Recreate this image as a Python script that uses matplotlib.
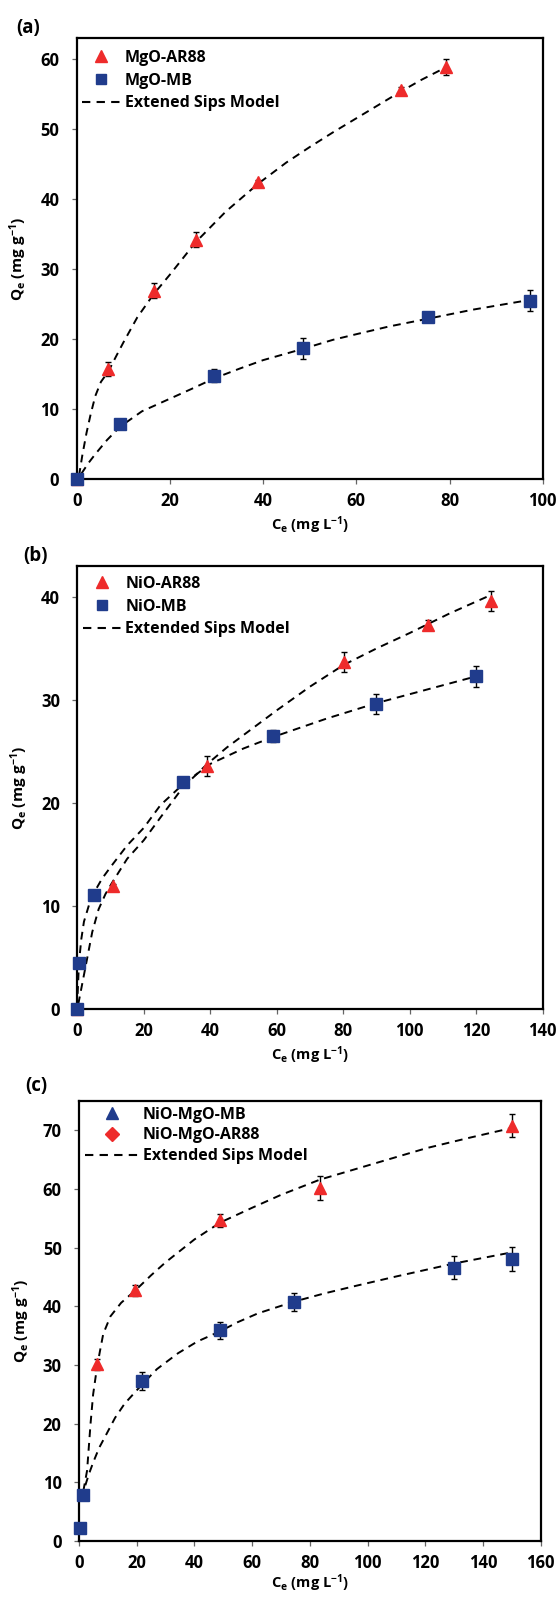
import numpy as np
import matplotlib
matplotlib.use("Agg")
import matplotlib.pyplot as plt
from matplotlib.lines import Line2D

plt.rcParams['font.family'] = ['Open Sans', 'DejaVu Sans']
plt.rcParams['font.weight'] = 'bold'
plt.rcParams['mathtext.fontset'] = 'custom'
plt.rcParams['mathtext.rm'] = 'Open Sans'
plt.rcParams['mathtext.bf'] = 'Open Sans:bold'
plt.rcParams['mathtext.it'] = 'Open Sans:italic'
plt.rcParams['mathtext.default'] = 'regular'

RED = '#ee2b2b'
BLUE = '#203c8c'

# ---- panel (a) data ----
a_ar_x = [0, 6.8, 16.5, 25.5, 39.0, 69.5, 79.3]
a_ar_y = [0, 15.8, 26.9, 34.2, 42.4, 55.6, 58.8]
a_ar_err = [0, 1.0, 1.1, 1.1, 0.3, 0.4, 1.1]
a_mb_x = [0, 9.3, 29.5, 48.5, 75.3, 97.3]
a_mb_y = [0, 7.9, 14.8, 18.7, 23.2, 25.5]
a_mb_err = [0, 0.2, 0.9, 1.5, 0.3, 1.5]
# model curves
a_ar_fx = [0.5, 1.2, 2.1, 3.0, 4.0, 5.2, 6.8, 8.5, 10.0, 13.0, 16.5, 20.0, 25.5, 32.0, 39.0, 45.0, 50.0, 55.0, 60.0, 65.0, 69.5, 74.0, 79.3]
a_ar_fy = [0.5, 3.4, 6.6, 9.3, 11.9, 13.9, 15.4, 17.6, 19.5, 23.1, 26.4, 29.2, 33.8, 38.2, 42.2, 45.2, 47.4, 49.5, 51.5, 53.5, 55.3, 57.0, 58.8]
a_mb_fx = [1.0, 2.5, 4.0, 6.5, 9.3, 14.0, 20.0, 25.0, 29.5, 35.0, 40.0, 48.5, 55.0, 60.0, 67.0, 75.3, 85.0, 97.3]
a_mb_fy = [0.8, 2.3, 3.6, 5.6, 7.5, 9.7, 11.5, 13.0, 14.4, 15.8, 17.0, 18.6, 19.9, 20.7, 21.8, 22.9, 24.2, 25.6]

# ---- panel (b) data ----
b_ar_x = [0, 10.7, 39.1, 80.1, 105.5, 124.5]
b_ar_y = [0, 12.0, 23.6, 33.7, 37.3, 39.6]
b_ar_err = [0, 0.2, 1.0, 1.0, 0.5, 1.0]
b_mb_x = [0, 0.5, 5.0, 31.7, 58.8, 90.0, 120.0]
b_mb_y = [0, 4.5, 11.1, 22.0, 26.5, 29.6, 32.3]
b_mb_err = [0, 0.2, 0.3, 0.3, 0.6, 1.0, 1.0]
b_ar_fx = [0.3, 1.5, 2.7, 4.5, 6.4, 8.5, 10.7, 15.0, 20.0, 25.0, 31.7, 39.1, 45.0, 50.0, 60.0, 70.0, 80.1, 90.0, 100.0, 112.0, 124.5]
b_ar_fy = [0.5, 2.5, 4.5, 7.5, 9.7, 11.2, 12.4, 14.6, 16.4, 18.6, 21.5, 23.8, 25.4, 26.6, 29.0, 31.3, 33.4, 35.0, 36.5, 38.4, 40.2]
b_mb_fx = [0.1, 0.5, 1.2, 2.0, 3.5, 5.0, 7.5, 10.0, 15.0, 20.0, 25.0, 31.7, 40.0, 50.0, 58.8, 75.0, 90.0, 105.0, 120.0]
b_mb_fy = [1.5, 4.5, 6.8, 8.5, 10.1, 11.3, 12.7, 13.8, 15.9, 17.6, 19.8, 21.8, 23.8, 25.3, 26.4, 28.2, 29.7, 31.0, 32.3]

# ---- panel (c) data ----
c_ar_x = [6.2, 19.5, 49.0, 83.5, 150.0]
c_ar_y = [30.1, 42.7, 54.7, 60.2, 70.8]
c_ar_err = [1.0, 1.0, 1.1, 2.0, 2.0]
c_mb_x = [0.3, 1.5, 21.7, 48.7, 74.5, 130.0, 150.0]
c_mb_y = [2.3, 7.8, 27.3, 35.9, 40.7, 46.6, 48.1]
c_mb_err = [0, 0, 1.5, 1.5, 1.5, 2.0, 2.0]
c_ar_fx = [1.5, 2.8, 4.0, 4.9, 6.2, 7.2, 8.4, 10.9, 14.6, 19.5, 25.0, 30.0, 40.0, 49.0, 60.0, 70.0, 83.5, 100.0, 120.7, 135.0, 150.0]
c_ar_fy = [8.5, 12.0, 20.0, 25.0, 29.5, 32.2, 35.3, 38.3, 40.6, 42.7, 45.3, 47.5, 51.4, 54.3, 56.8, 59.0, 61.6, 64.0, 67.0, 68.7, 70.4]
c_mb_fx = [2.2, 3.5, 5.0, 7.0, 9.6, 12.5, 15.8, 21.7, 27.0, 34.3, 41.0, 48.7, 55.0, 62.0, 74.5, 85.0, 96.0, 110.0, 130.0, 150.0]
c_mb_fy = [9.5, 11.5, 13.5, 15.9, 18.3, 21.0, 23.4, 26.6, 29.3, 32.0, 34.0, 35.7, 37.3, 38.8, 40.8, 42.2, 43.5, 45.1, 47.3, 49.2]

W, H = 559, 1598
fig = plt.figure(figsize=(W / 100, H / 100), dpi=100)


def box(l, r, t, b):
    return [l / W, (H - b) / H, (r - l) / W, (b - t) / H]


def style(ax, xmax, xstep, ymax, ystep, xpad):
    ax.set_xlim(0, xmax)
    ax.set_ylim(0, ymax)
    ax.set_xticks(np.arange(0, xmax + 1, xstep))
    ax.set_yticks(np.arange(0, ymax, ystep))
    for s in ax.spines.values():
        s.set_linewidth(1.6)
    ax.tick_params(direction='out', length=3.5, width=0.9, color='#666666', labelsize=12)
    ax.tick_params(axis='x', pad=6)
    ax.tick_params(axis='y', pad=9)
    for lab in ax.get_xticklabels() + ax.get_yticklabels():
        lab.set_fontweight('bold')
    ax.set_xlabel(r'C$_e$ (mg L$^{-1}$)', fontsize=10.5, fontweight='bold', labelpad=xpad)
    ax.set_ylabel(r'$\mathrm{Q_e}$ $\mathbf{(mg\ g^{-1})}$', fontsize=11, labelpad=8)


def draw(ax, x, y, err, fx, fy, color, marker, ms):
    ax.plot(fx, fy, '--', color='black', lw=1.4, dashes=(4, 3), zorder=2)
    ax.errorbar(x, y, yerr=err, fmt=marker, color=color, ms=ms, ecolor='black',
                elinewidth=1.0, capsize=2.5, capthick=1.0, clip_on=False, zorder=3)


def legend(ax, entries, hl, anchor, spacing):
    handles = []
    for lab, kind, col in entries:
        if kind == 'line':
            handles.append(Line2D([], [], ls='--', color='black', lw=1.5, dashes=(4, 3), label=lab))
        elif kind == '^':
            handles.append(Line2D([], [], ls='none', marker=kind, color=col, ms=8.5, label=lab))
        else:
            handles.append(Line2D([], [], ls='none', marker=kind, color=col, ms=7.5, label=lab))
    ax.legend(handles=handles, loc='upper left', bbox_to_anchor=anchor, frameon=False,
              handlelength=hl, handletextpad=0.25, labelspacing=spacing,
              borderaxespad=0, borderpad=0.35, prop={'weight': 'bold', 'size': 11.5})


# (a)
ax1 = fig.add_axes(box(76.7, 542.7, 37.7, 479.3))
draw(ax1, a_ar_x, a_ar_y, a_ar_err, a_ar_fx, a_ar_fy, RED, '^', 9)
draw(ax1, a_mb_x, a_mb_y, a_mb_err, a_mb_fx, a_mb_fy, BLUE, 's', 8)
style(ax1, 100, 20, 63, 10, 3)
legend(ax1, [('MgO-AR88', '^', RED), ('MgO-MB', 's', BLUE),
             ('Extened Sips Model', 'line', None)], 2.4, (0.0, 0.985), 0.42)
fig.text(28 / W, 1 - 28 / H, '(a)', fontsize=13.5, fontweight='bold', ha='center', va='center')

# (b)
ax2 = fig.add_axes(box(77.3, 542.7, 566, 1009.3))
draw(ax2, b_ar_x, b_ar_y, b_ar_err, b_ar_fx, b_ar_fy, RED, '^', 9)
draw(ax2, b_mb_x, b_mb_y, b_mb_err, b_mb_fx, b_mb_fy, BLUE, 's', 8)
style(ax2, 140, 20, 43, 10, 3)
legend(ax2, [('NiO-AR88', '^', RED), ('NiO-MB', 's', BLUE),
             ('Extended Sips Model', 'line', None)], 2.4, (0.0, 0.99), 0.42)
fig.text(36 / W, 1 - 556 / H, '(b)', fontsize=13.5, fontweight='bold', ha='center', va='center')

# (c)
ax3 = fig.add_axes(box(79, 540.7, 1101, 1541))
draw(ax3, c_ar_x, c_ar_y, c_ar_err, c_ar_fx, c_ar_fy, RED, '^', 9)
draw(ax3, c_mb_x, c_mb_y, c_mb_err, c_mb_fx, c_mb_fy, BLUE, 's', 8)
style(ax3, 160, 20, 75, 10, 0)
legend(ax3, [('NiO-MgO-MB', '^', BLUE), ('NiO-MgO-AR88', 'D', RED),
             ('Extended Sips Model', 'line', None)], 3.4, (0.0, 1.0), 0.3)
fig.text(36 / W, 1 - 1086 / H, '(c)', fontsize=13.5, fontweight='bold', ha='center', va='center')

fig.savefig('out.png', dpi=100)
